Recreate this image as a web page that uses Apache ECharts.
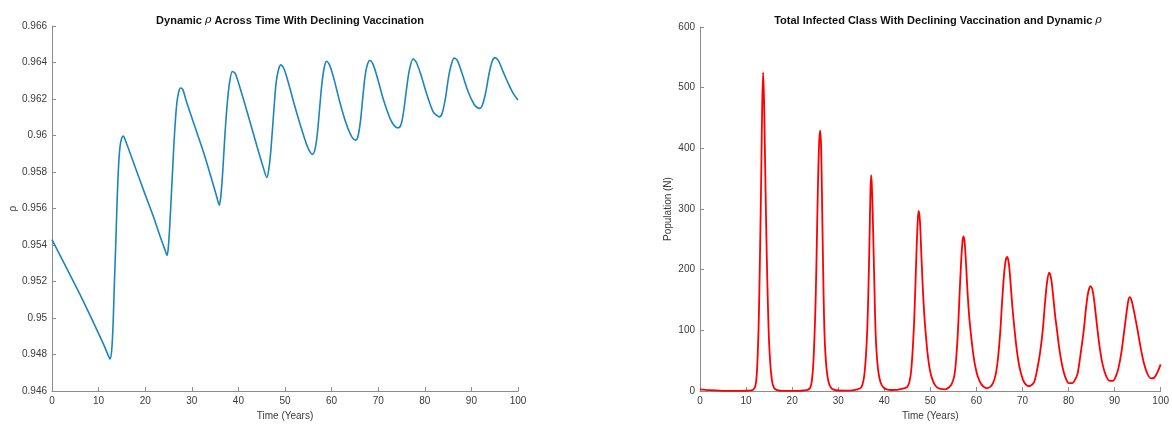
<!DOCTYPE html>
<html>
<head>
<meta charset="utf-8">
<title>Dynamic rho and infected class</title>
<script src="https://cdn.jsdelivr.net/npm/echarts@6/dist/echarts.min.js"></script>
<style>
  html, body { margin: 0; padding: 0; background: #ffffff; }
  #chart { width: 1172px; height: 426px; }
</style>
</head>
<body>
<div id="chart"></div>
<script>
// Dynamic vaccination proportion rho over time (years)
const rhoTime = [
  0, 3, 6, 9, 11, 12, 12.45, 12.8, 13.1, 13.4, 13.7, 14.0, 14.3, 14.6, 14.95, 15.3, 15.8, 17.8, 19.8, 21.7, 23.3, 24.3,
  24.7, 25.0, 25.3, 25.6, 25.9, 26.2, 26.5, 26.8, 27.2, 27.6, 28.1, 28.8, 30.5, 32.5, 34.5, 35.4,
  35.9, 36.2, 36.5, 36.8, 37.1, 37.4, 37.7, 38.1, 38.7, 39.3, 40.0, 42.1, 44.0, 45.4,
  46.1, 46.5, 46.9, 47.3, 47.7, 48.1, 48.6, 49.1, 49.7, 50.5, 52.0, 53.5, 54.8, 55.5,
  55.9, 56.4, 56.9, 57.4, 57.9, 58.4, 58.9, 59.5, 60.4, 61.8, 63.2, 64.4,
  65.2, 65.7, 66.2, 66.7, 67.2, 67.7, 68.2, 68.9, 69.9, 71.2, 72.6, 73.6,
  74.3, 74.9, 75.5, 76.1, 76.7, 77.5, 78.2, 79.2, 80.5, 81.8, 82.6,
  83.1, 83.7, 84.4, 85.1, 85.7, 86.3, 87.0, 88.0, 89.3, 90.6, 91.3,
  91.8, 92.4, 93.1, 93.8, 94.5, 95.1, 95.8, 96.8, 98.0, 99.0, 100
];
const rhoValue = [
  0.9543, 0.9528, 0.9513, 0.9497, 0.9486, 0.9480, 0.94776, 0.9482, 0.9496, 0.9520, 0.9542, 0.9566, 0.9584, 0.9594, 0.95985, 0.95997, 0.9597, 0.9583, 0.9569, 0.9556, 0.9544, 0.9537,
  0.95343, 0.9540, 0.9552, 0.9567, 0.9582, 0.9597, 0.9609, 0.9618, 0.9624, 0.9626, 0.9625, 0.9619, 0.9606, 0.9591, 0.9574, 0.9566,
  0.95619, 0.9566, 0.9575, 0.9587, 0.9600, 0.9611, 0.9620, 0.9629, 0.96351, 0.9634, 0.9629, 0.9611, 0.9594, 0.9582,
  0.9577, 0.9581, 0.9590, 0.9603, 0.9617, 0.9629, 0.9636, 0.96387, 0.9637, 0.9631, 0.9617, 0.9604, 0.9594, 0.95905,
  0.95897, 0.9592, 0.9600, 0.9614, 0.9628, 0.9637, 0.96406, 0.9639, 0.9632, 0.9618, 0.9606, 0.9599,
  0.95975, 0.9600, 0.9608, 0.9621, 0.9633, 0.9639, 0.96411, 0.9639, 0.9631, 0.9619, 0.9609, 0.9605,
  0.96042, 0.9606, 0.9614, 0.9626, 0.9636, 0.96420, 0.9640, 0.9633, 0.9622, 0.9613, 0.9611,
  0.96102, 0.9612, 0.9620, 0.9632, 0.9639, 0.96424, 0.9641, 0.9634, 0.9624, 0.9617, 0.96152,
  0.96149, 0.9617, 0.9624, 0.9634, 0.9641, 0.96427, 0.9641, 0.9635, 0.9628, 0.9623, 0.96195
];

// Total infected population over time (years)
const infTime = [
  0, 2, 5, 8, 10, 11, 11.5, 12.0, 12.3, 12.5, 12.7, 12.9, 13.1, 13.3, 13.5, 13.7, 13.9, 14.1, 14.3, 14.5, 14.7, 14.9, 15.1, 15.4, 15.7, 16.1, 16.6, 17.5,
  19, 21, 22.5, 23.5, 24.0, 24.3, 24.6, 24.9, 25.1, 25.3, 25.5, 25.7, 25.9, 26.1, 26.3, 26.5, 26.7, 26.85, 27.0, 27.2, 27.5, 27.9, 28.4, 29.0, 30,
  31.5, 33, 34.2, 35.0, 35.5, 35.9, 36.3, 36.55, 36.8, 37.0, 37.15, 37.3, 37.5, 37.7, 37.9, 38.1, 38.35, 38.7, 39.2, 39.8, 40.5,
  41.5, 42.8, 44, 45.0, 45.5, 45.9, 46.4, 46.7, 47.0, 47.3, 47.5, 47.75, 48.0, 48.3, 48.65, 49.0, 49.4, 49.9, 50.5, 51.2, 52.2, 53.2, 54.0, 54.6,
  55.2, 55.6, 56.0, 56.35, 56.7, 57.0, 57.2, 57.45, 57.75, 58.1, 58.45, 58.8, 59.2, 59.7, 60.3, 61.0, 61.7, 62.3, 63.0, 63.6,
  64.2, 64.7, 65.2, 65.6, 66.0, 66.35, 66.7, 67.05, 67.4, 67.8, 68.3, 68.8, 69.4, 70.1, 70.7, 71.3, 72.0, 72.6,
  73.2, 73.8, 74.4, 74.9, 75.35, 75.8, 76.25, 76.7, 77.1, 77.5, 78.0, 78.6, 79.3, 80.1, 80.8, 81.5, 82.0,
  82.6, 83.3, 83.8, 84.3, 84.8, 85.3, 85.8, 86.3, 86.8, 87.4, 88.1, 88.9, 89.6, 90.3, 90.9, 91.5,
  92.1, 92.6, 93.0, 93.3, 93.7, 94.3, 95.0, 95.6, 96.3, 97.1, 97.9, 98.6, 99.3, 100
];
const infValue = [
  3, 1.5, 0.5, 0.3, 0.6, 1.2, 2, 8, 25, 55, 100, 170, 260, 360, 470, 525, 480, 390, 300, 220, 155, 100, 65, 32, 14, 5, 2, 0.6,
  0.3, 0.4, 1, 2.5, 7, 18, 45, 100, 150, 220, 300, 370, 415, 429, 400, 310, 215, 150, 100, 65, 35, 15, 6, 2.5, 1,
  0.8, 1.3, 3, 6, 18, 45, 100, 165, 250, 330, 356, 340, 290, 225, 160, 100, 62, 33, 14, 6, 3,
  1.8, 2, 4, 7, 16, 38, 100, 160, 230, 285, 297, 280, 235, 180, 130, 95, 62, 35, 18, 8, 3.5, 3, 6, 11,
  25, 52, 100, 160, 215, 248, 255, 245, 210, 160, 122, 95, 68, 43, 24, 12, 6.5, 5, 7, 13,
  28, 55, 100, 150, 192, 215, 221, 210, 180, 140, 100, 66, 38, 19, 11, 8, 10, 16,
  36, 62, 100, 146, 180, 195, 184, 154, 124, 100, 70, 43, 23, 13, 13, 20, 30,
  60, 100, 137, 164, 173, 163, 134, 100, 70, 44, 26, 17, 17, 25, 40, 65,
  100, 130, 150, 155, 149, 128, 100, 74, 48, 29, 21, 22, 31, 44
];

// Axis ticks
const timeTicks = { min: 0, max: 100, interval: 10 };
const rhoTicks = { min: 0.946, max: 0.966, interval: 0.002 };
const infTicks = { min: 0, max: 600, interval: 100 };

const zip = (xs, ys) => xs.map((x, i) => [x, ys[i]]);

const FONT = '"Liberation Sans", Arial, Helvetica, sans-serif';
const axisColor = '#8c8c8c';
const labelColor = '#3a3a3a';

function xAxisFor(gridIndex) {
  return {
    type: 'value', gridIndex,
    min: timeTicks.min, max: timeTicks.max, interval: timeTicks.interval,
    name: 'Time (Years)', nameLocation: 'middle', nameGap: 17,
    nameTextStyle: { color: labelColor, fontSize: 10, fontFamily: FONT },
    axisLine: { show: true, lineStyle: { color: axisColor, width: 1 } },
    axisTick: { show: true, inside: true, length: 4, lineStyle: { color: axisColor } },
    axisLabel: { color: labelColor, fontSize: 10, fontFamily: FONT, margin: 5 },
    splitLine: { show: false }
  };
}

function yAxisFor(gridIndex, ticks, name, nameGap, fmt) {
  return {
    type: 'value', gridIndex,
    min: ticks.min, max: ticks.max, interval: ticks.interval,
    name, nameLocation: 'middle', nameGap,
    nameTextStyle: { color: labelColor, fontSize: 10, fontFamily: FONT },
    axisLine: { show: true, lineStyle: { color: axisColor, width: 1 } },
    axisTick: { show: true, inside: true, length: 4, lineStyle: { color: axisColor } },
    axisLabel: { color: labelColor, fontSize: 10, fontFamily: FONT, margin: 5, formatter: fmt },
    splitLine: { show: false }
  };
}

const titleStyle = {
  fontSize: 11, fontWeight: 'bold', color: '#111', fontFamily: FONT,
  rich: { i: { fontSize: 11, fontStyle: 'italic', fontWeight: 'normal', color: '#111', fontFamily: '"DejaVu Serif", serif' } }
};

const chart = echarts.init(document.getElementById('chart'), null, { renderer: 'canvas' });

chart.setOption({
  backgroundColor: '#ffffff',
  animation: false,
  title: [
    {
      text: 'Dynamic {i|ρ} Across Time With Declining Vaccination',
      left: 285, top: 10, textAlign: 'center', textStyle: titleStyle
    },
    {
      text: 'Total Infected Class With Declining Vaccination and Dynamic {i|ρ}',
      left: 933, top: 10, textAlign: 'center', textStyle: titleStyle
    }
  ],
  grid: [
    { left: 52, right: 654, top: 26, bottom: 33 },
    { left: 700, right: 6, top: 27, bottom: 33 }
  ],
  xAxis: [xAxisFor(0), xAxisFor(1)],
  yAxis: [
    yAxisFor(0, rhoTicks, 'ρ', 34, v => String(parseFloat(v.toFixed(3)))),
    yAxisFor(1, infTicks, 'Population (N)', 27, v => String(Math.round(v)))
  ],
  series: [
    {
      type: 'line', xAxisIndex: 0, yAxisIndex: 0,
      data: zip(rhoTime, rhoValue),
      showSymbol: false, smooth: 0.3,
      lineStyle: { color: '#1a86bd', width: 1.6 },
      itemStyle: { color: '#1a86bd' }
    },
    {
      type: 'line', xAxisIndex: 1, yAxisIndex: 1,
      data: zip(infTime, infValue),
      showSymbol: false, smooth: 0.3,
      lineStyle: { color: '#ff0000', width: 1.8 },
      itemStyle: { color: '#ff0000' }
    }
  ]
});
</script>
</body>
</html>
